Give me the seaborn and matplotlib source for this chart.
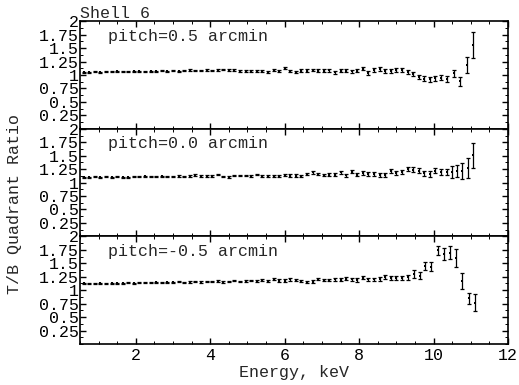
import matplotlib
matplotlib.use("Agg")
import matplotlib.pyplot as plt
import seaborn as sns
import pandas as pd
from matplotlib.ticker import MultipleLocator, FixedLocator

# ---------------- data ----------------
energy_grid = [0.60, 0.75, 0.90, 1.05, 1.20, 1.35, 1.50, 1.65, 1.80, 1.95,
               2.10, 2.25, 2.40, 2.55, 2.70, 2.85, 3.00, 3.15, 3.30, 3.45,
               3.60, 3.75, 3.90, 4.05, 4.20, 4.35, 4.50, 4.65, 4.80, 4.95,
               5.10, 5.25, 5.40, 5.55, 5.70, 5.85, 6.00, 6.15, 6.30, 6.45,
               6.60, 6.75, 6.90, 7.05, 7.20, 7.35, 7.50, 7.65, 7.80, 7.95,
               8.10, 8.25, 8.40, 8.55, 8.70, 8.85, 9.00, 9.15, 9.30, 9.45,
               9.60, 9.75, 9.90, 10.05, 10.20, 10.35]

ratio_p05 = [1.05, 1.05, 1.06, 1.05, 1.06, 1.06, 1.07, 1.06, 1.06, 1.07,
             1.07, 1.06, 1.07, 1.07, 1.08, 1.07, 1.08, 1.07, 1.08, 1.09,
             1.08, 1.08, 1.09, 1.08, 1.09, 1.10, 1.09, 1.09, 1.07, 1.08,
             1.07, 1.08, 1.07, 1.06, 1.09, 1.08, 1.13, 1.07, 1.05, 1.08,
             1.08, 1.09, 1.08, 1.08, 1.09, 1.05, 1.08, 1.08, 1.07, 1.08,
             1.12, 1.04, 1.09, 1.11, 1.08, 1.07, 1.10, 1.09, 1.05, 1.02,
             0.96, 0.93, 0.92, 0.94, 0.95, 0.93]
err_p05 = [0.008, 0.008, 0.008, 0.008, 0.008, 0.009, 0.009, 0.009, 0.009, 0.010,
           0.010, 0.010, 0.010, 0.010, 0.011, 0.011, 0.011, 0.012, 0.012, 0.012,
           0.013, 0.013, 0.013, 0.014, 0.014, 0.014, 0.015, 0.015, 0.016, 0.016,
           0.017, 0.018, 0.018, 0.019, 0.020, 0.020, 0.021, 0.022, 0.022, 0.023,
           0.024, 0.024, 0.025, 0.026, 0.026, 0.027, 0.028, 0.028, 0.029, 0.030,
           0.031, 0.032, 0.033, 0.034, 0.035, 0.036, 0.037, 0.038, 0.040, 0.042,
           0.044, 0.046, 0.048, 0.050, 0.052, 0.055]
tail_e_p05 = [10.55, 10.72, 10.90, 11.07]
tail_r_p05 = [1.03, 0.88, 1.18, 1.55]
tail_err_p05 = [0.07, 0.09, 0.15, 0.24]

ratio_p00 = [1.10, 1.10, 1.11, 1.10, 1.11, 1.10, 1.11, 1.10, 1.10, 1.11,
             1.11, 1.12, 1.11, 1.11, 1.12, 1.11, 1.11, 1.12, 1.11, 1.12,
             1.14, 1.12, 1.12, 1.12, 1.15, 1.11, 1.10, 1.13, 1.13, 1.13,
             1.13, 1.15, 1.12, 1.13, 1.13, 1.13, 1.14, 1.13, 1.13, 1.12,
             1.16, 1.19, 1.16, 1.14, 1.15, 1.15, 1.19, 1.14, 1.20, 1.15,
             1.18, 1.16, 1.16, 1.14, 1.14, 1.21, 1.17, 1.20, 1.25, 1.24,
             1.22, 1.17, 1.16, 1.22, 1.20, 1.20]
err_p00 = err_p05
tail_e_p00 = [10.48, 10.62, 10.77, 10.93, 11.07]
tail_r_p00 = [1.20, 1.21, 1.22, 1.27, 1.51]
tail_err_p00 = [0.11, 0.11, 0.15, 0.19, 0.23]

ratio_m05 = [1.13, 1.12, 1.12, 1.13, 1.12, 1.13, 1.13, 1.13, 1.14, 1.13,
             1.14, 1.14, 1.14, 1.15, 1.14, 1.15, 1.15, 1.16, 1.14, 1.15,
             1.16, 1.15, 1.16, 1.16, 1.17, 1.15, 1.16, 1.18, 1.16, 1.17,
             1.18, 1.17, 1.19, 1.17, 1.21, 1.18, 1.18, 1.20, 1.19, 1.17,
             1.15, 1.16, 1.21, 1.19, 1.19, 1.20, 1.19, 1.21, 1.20, 1.19,
             1.23, 1.20, 1.20, 1.21, 1.24, 1.23, 1.23, 1.22]
err_m05 = err_p05[:58]
tail_e_m05 = [9.30, 9.46, 9.64, 9.78, 9.93, 10.12, 10.28, 10.45, 10.60, 10.77, 10.95, 11.10]
tail_r_m05 = [1.24, 1.30, 1.27, 1.45, 1.44, 1.74, 1.67, 1.70, 1.60, 1.17, 0.85, 0.77]
tail_err_m05 = [0.05, 0.07, 0.07, 0.08, 0.08, 0.08, 0.11, 0.12, 0.16, 0.15, 0.10, 0.16]

panel_labels = ["pitch=0.5 arcmin", "pitch=0.0 arcmin", "pitch=-0.5 arcmin"]
y_ticks = [0.25, 0.5, 0.75, 1, 1.25, 1.5, 1.75, 2]
y_ticklabels = ["0.25", "0.5", "0.75", "1", "1.25", "1.5", "1.75", "2"]
x_ticks = [2, 4, 6, 8, 10, 12]

# ---------------- build frames ----------------
def make_df(egrid, r, e, te, tr, terr):
    return pd.DataFrame({"energy": list(egrid) + list(te),
                         "ratio": list(r) + list(tr),
                         "err": list(e) + list(terr)})

frames = [
    make_df(energy_grid, ratio_p05, err_p05, tail_e_p05, tail_r_p05, tail_err_p05),
    make_df(energy_grid, ratio_p00, err_p00, tail_e_p00, tail_r_p00, tail_err_p00),
    make_df(energy_grid[:58], ratio_m05, err_m05, tail_e_m05, tail_r_m05, tail_err_m05),
]

# ---------------- plot ----------------
sns.set_theme(style="ticks")
plt.rcParams["font.family"] = ["Liberation Mono", "DejaVu Sans Mono"]
plt.rcParams["font.size"] = 12

fig, axes = plt.subplots(3, 1, figsize=(5.19, 3.85), dpi=100, sharex=True)
fig.subplots_adjust(left=0.154, right=0.979, bottom=0.1065, top=0.945, hspace=0)

for ax, df, lab in zip(axes, frames, panel_labels):
    ax.errorbar(df["energy"], df["ratio"], yerr=df["err"], fmt="none",
                ecolor="black", elinewidth=0.9, capsize=1.6, capthick=0.9)
    sns.scatterplot(data=df, x="energy", y="ratio", ax=ax, color="black",
                    marker="s", s=3, linewidth=0, legend=False)
    ax.set_xlim(0.5, 12)
    ax.set_ylim(0, 2)
    ax.yaxis.set_major_locator(FixedLocator(y_ticks))
    ax.set_yticklabels(y_ticklabels)
    ax.xaxis.set_major_locator(FixedLocator(x_ticks))
    ax.xaxis.set_minor_locator(MultipleLocator(0.5))
    ax.yaxis.set_minor_locator(MultipleLocator(0.125))
    ax.tick_params(axis="both", which="both", direction="in",
                   top=True, right=True, colors="black", labelsize=12, pad=1)
    ax.tick_params(which="major", length=4, width=1)
    ax.tick_params(which="minor", length=2, width=0.7)
    ax.set_xlabel("")
    ax.set_ylabel("")
    for s in ax.spines.values():
        s.set_linewidth(1.2)
        s.set_color("black")
    ax.text(1.25, 1.72, lab, fontsize=12, ha="left", va="center")

axes[2].set_xticklabels([str(t) for t in x_ticks])
axes[2].tick_params(axis="x", pad=3)
axes[2].set_xlabel("Energy, keV", fontsize=12, labelpad=1)
axes[0].set_title("Shell 6", loc="left", fontsize=12, pad=1)
fig.text(0.028, 0.47, "T/B Quadrant Ratio", rotation=90, ha="center",
         va="center", fontsize=12)

fig.savefig("out.png", dpi=100, facecolor="white")
